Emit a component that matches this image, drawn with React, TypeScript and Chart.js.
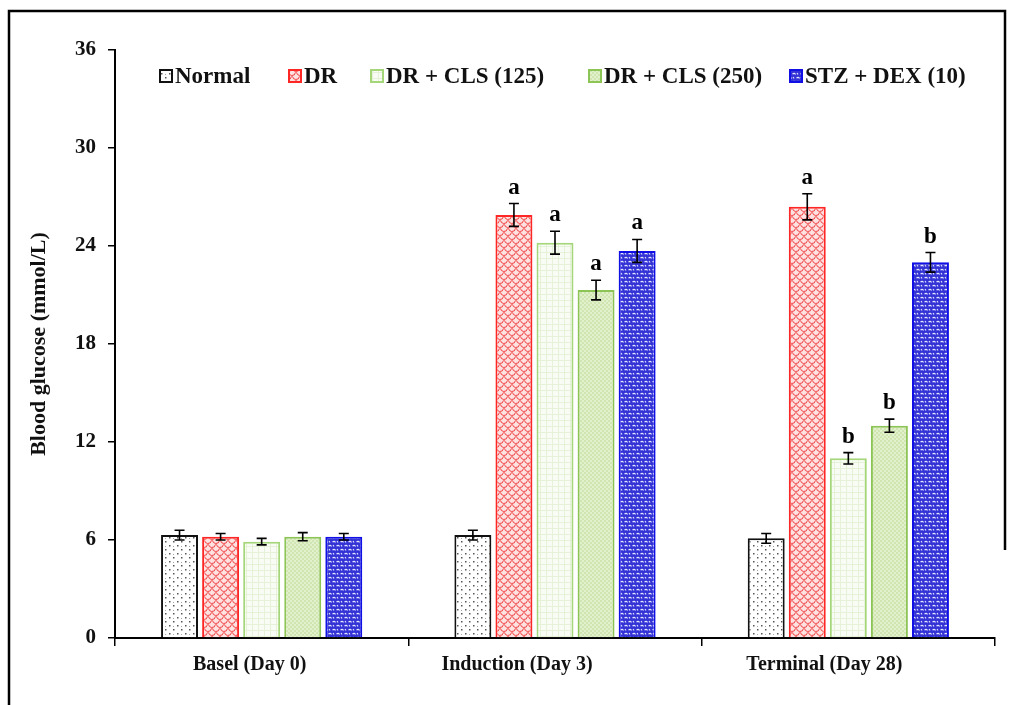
import { useEffect, useRef } from "react";
import { Chart, registerables } from "chart.js";

Chart.register(...registerables);

const categories = ["Basel (Day 0)", "Induction (Day 3)", "Terminal (Day 28)"];
const seriesNames = ["Normal", "DR", "DR + CLS (125)", "DR + CLS (250)", "STZ + DEX (10)"];

const normal = [6.3, 6.3, 6.1];
const dr = [6.2, 25.9, 26.4];
const cls125 = [5.9, 24.2, 11.0];
const cls250 = [6.2, 21.3, 13.0];
const stzDex = [6.2, 23.7, 23.0];

const normalErr = [0.3, 0.3, 0.3];
const drErr = [0.2, 0.7, 0.8];
const cls125Err = [0.2, 0.7, 0.35];
const cls250Err = [0.25, 0.6, 0.4];
const stzDexErr = [0.2, 0.7, 0.6];

const normalSig = ["", "", ""];
const drSig = ["", "a", "a"];
const cls125Sig = ["", "a", "b"];
const cls250Sig = ["", "a", "b"];
const stzDexSig = ["", "a", "b"];

const yMin = 0;
const yMax = 36;
const yStep = 6;

const SERIF = '"Liberation Serif", "Times New Roman", serif';

function tile(size: number, draw: (c: CanvasRenderingContext2D) => void): CanvasPattern {
  const cv = document.createElement("canvas");
  cv.width = size;
  cv.height = size;
  const c = cv.getContext("2d")!;
  draw(c);
  const ctx = document.createElement("canvas").getContext("2d")!;
  return ctx.createPattern(cv, "repeat")!;
}

function makePatterns() {
  const pNormal = tile(8, (c) => {
    c.fillStyle = "#ffffff";
    c.fillRect(0, 0, 8, 8);
    c.fillStyle = "#555555";
    c.fillRect(1, 1, 1.5, 1.5);
    c.fillRect(5, 5, 1.5, 1.5);
    c.fillStyle = "#aaaaaa";
    c.fillRect(5, 2, 1, 1);
  });
  const pDR = tile(8, (c) => {
    c.fillStyle = "#fde2e2";
    c.fillRect(0, 0, 8, 8);
    c.strokeStyle = "#f04040";
    c.lineWidth = 1;
    c.beginPath();
    c.arc(4, 0, 3.5, 0.1, Math.PI - 0.1);
    c.stroke();
    c.beginPath();
    c.arc(0, 4, 3.5, 0.1, Math.PI - 0.1);
    c.stroke();
    c.beginPath();
    c.arc(8, 4, 3.5, 0.1, Math.PI - 0.1);
    c.stroke();
  });
  const p125 = tile(6, (c) => {
    c.fillStyle = "#f9fcf4";
    c.fillRect(0, 0, 6, 6);
    c.fillStyle = "#e6f2d8";
    c.fillRect(0, 0, 6, 1);
    c.fillRect(0, 0, 1, 6);
  });
  const p250 = tile(4, (c) => {
    c.fillStyle = "#e2f0cc";
    c.fillRect(0, 0, 4, 4);
    c.fillStyle = "#cfe5b2";
    c.fillRect(0, 0, 2, 2);
    c.fillRect(2, 2, 2, 2);
  });
  const pSTZ = tile(8, (c) => {
    c.fillStyle = "#3434d6";
    c.fillRect(0, 0, 8, 8);
    c.strokeStyle = "#e8e8ff";
    c.lineWidth = 1.1;
    c.beginPath();
    c.moveTo(0.5, 2);
    c.quadraticCurveTo(2.5, 0.5, 3.5, 2.5);
    c.stroke();
    c.beginPath();
    c.moveTo(4.5, 6);
    c.quadraticCurveTo(6.5, 4.5, 7.5, 6.5);
    c.stroke();
    c.beginPath();
    c.moveTo(5, 1);
    c.lineTo(6, 2.5);
    c.stroke();
    c.beginPath();
    c.moveTo(1, 5);
    c.lineTo(2, 6.5);
    c.stroke();
  });
  return [pNormal, pDR, p125, p250, pSTZ];
}

const borderColors = ["#111111", "#ff2626", "#a6d67a", "#8cc455", "#1010e6"];

export default function App() {
  const ref = useRef<HTMLCanvasElement | null>(null);

  useEffect(() => {
    if (!ref.current) return;
    const patterns = makePatterns();
    const values = [normal, dr, cls125, cls250, stzDex];
    const errors = [normalErr, drErr, cls125Err, cls250Err, stzDexErr];
    const sigs = [normalSig, drSig, cls125Sig, cls250Sig, stzDexSig];

    const framePlugin = {
      id: "frame",
      beforeDraw(chart: any) {
        const ctx = chart.ctx;
        ctx.save();
        ctx.fillStyle = "#ffffff";
        ctx.fillRect(0, 0, chart.width, chart.height);
        ctx.strokeStyle = "#000000";
        ctx.lineWidth = 2.5;
        ctx.beginPath();
        ctx.moveTo(9, chart.height);
        ctx.lineTo(9, 11);
        ctx.lineTo(1005, 11);
        ctx.lineTo(1005, 550);
        ctx.stroke();
        ctx.restore();
      },
    };

    const labelShift = [-12, -38, -24];
    const catLabelPlugin = {
      id: "catLabels",
      afterDraw(chart: any) {
        const ctx = chart.ctx;
        const xs = chart.scales.x;
        ctx.save();
        ctx.font = "bold 20px " + SERIF;
        ctx.fillStyle = "#111111";
        ctx.textAlign = "center";
        ctx.textBaseline = "middle";
        chart.data.labels.forEach((lab: string, i: number) => {
          ctx.fillText(lab, xs.getPixelForValue(i) + labelShift[i], xs.top + 27);
        });
        ctx.restore();
      },
    };

    const errPlugin = {
      id: "errbars",
      afterDatasetsDraw(chart: any) {
        const ctx = chart.ctx;
        const ys = chart.scales.y;
        ctx.save();
        chart.data.datasets.forEach((ds: any, di: number) => {
          const meta = chart.getDatasetMeta(di);
          meta.data.forEach((el: any, i: number) => {
            const v = values[di][i];
            const e = errors[di][i];
            const top = ys.getPixelForValue(v + e);
            const bot = ys.getPixelForValue(v - e);
            const x = el.x;
            ctx.strokeStyle = "#000000";
            ctx.lineWidth = 1.6;
            ctx.beginPath();
            ctx.moveTo(x, top);
            ctx.lineTo(x, bot);
            ctx.moveTo(x - 5, top);
            ctx.lineTo(x + 5, top);
            ctx.moveTo(x - 5, bot);
            ctx.lineTo(x + 5, bot);
            ctx.stroke();
            const s = sigs[di][i];
            if (s) {
              ctx.fillStyle = "#000000";
              ctx.font = "bold 23px " + SERIF;
              ctx.textAlign = "center";
              ctx.textBaseline = "alphabetic";
              ctx.fillText(s, x, top - 10);
            }
          });
        });
        ctx.restore();
      },
    };

    const legendX = [160, 289, 371, 589, 790];
    const legendPlugin = {
      id: "customLegend",
      afterDraw(chart: any) {
        const ctx = chart.ctx;
        ctx.save();
        ctx.font = "bold 23px " + SERIF;
        ctx.textBaseline = "middle";
        ctx.textAlign = "left";
        const y = 76;
        chart.data.datasets.forEach((ds: any, i: number) => {
          const b = 12;
          const x = legendX[i];
          ctx.fillStyle = ds.backgroundColor;
          ctx.fillRect(x, y - b / 2, b, b);
          ctx.strokeStyle = ds.borderColor;
          ctx.lineWidth = 2;
          ctx.strokeRect(x, y - b / 2, b, b);
          ctx.fillStyle = "#111111";
          ctx.fillText(ds.label, x + b + 3, y + 1);
        });
        ctx.restore();
      },
    };

    const tickFont = { family: SERIF, size: 21, weight: "bold" as const };

    const chart = new Chart(ref.current, {
      type: "bar",
      data: {
        labels: categories,
        datasets: seriesNames.map((name, i) => ({
          label: name,
          data: values[i],
          backgroundColor: patterns[i] as any,
          borderColor: borderColors[i],
          borderWidth: 2,
          categoryPercentage: 0.7,
          barPercentage: 0.9,
        })),
      },
      options: {
        animation: false,
        responsive: false,
        devicePixelRatio: 1,
        layout: { padding: { left: 20, right: 20, top: 50, bottom: 0 } },
        plugins: {
          legend: { display: false },
          tooltip: { enabled: false },
        },
        scales: {
          x: {
            grid: {
              display: true,
              drawOnChartArea: false,
              drawTicks: true,
              tickLength: 8,
              color: "#000000",
              lineWidth: 1.5,
              offset: true,
            },
            border: { display: true, color: "#000000", width: 2 },
            ticks: { display: false },
            afterFit: (s: any) => {
              s.height = 67;
            },
          },
          y: {
            min: yMin,
            max: yMax,
            ticks: { stepSize: yStep, font: tickFont, color: "#111111", padding: 12 },
            grid: {
              drawOnChartArea: false,
              drawTicks: true,
              tickLength: 7,
              color: "#000000",
              lineWidth: 1.5,
            },
            border: { display: true, color: "#000000", width: 2 },
            title: {
              display: true,
              text: "Blood glucose (mmol/L)",
              font: { family: SERIF, size: 22, weight: "bold" },
              color: "#111111",
              padding: { top: 6, bottom: 0 },
            },
            afterFit: (s: any) => {
              s.width = 95;
            },
          },
        },
      },
      plugins: [framePlugin, errPlugin, legendPlugin, catLabelPlugin],
    });
    return () => chart.destroy();
  }, []);

  return (
    <div style={{ position: "absolute", left: 0, top: 0, width: 1015, height: 705 }}>
      <canvas ref={ref} width={1015} height={705} style={{ display: "block" }} />
    </div>
  );
}
